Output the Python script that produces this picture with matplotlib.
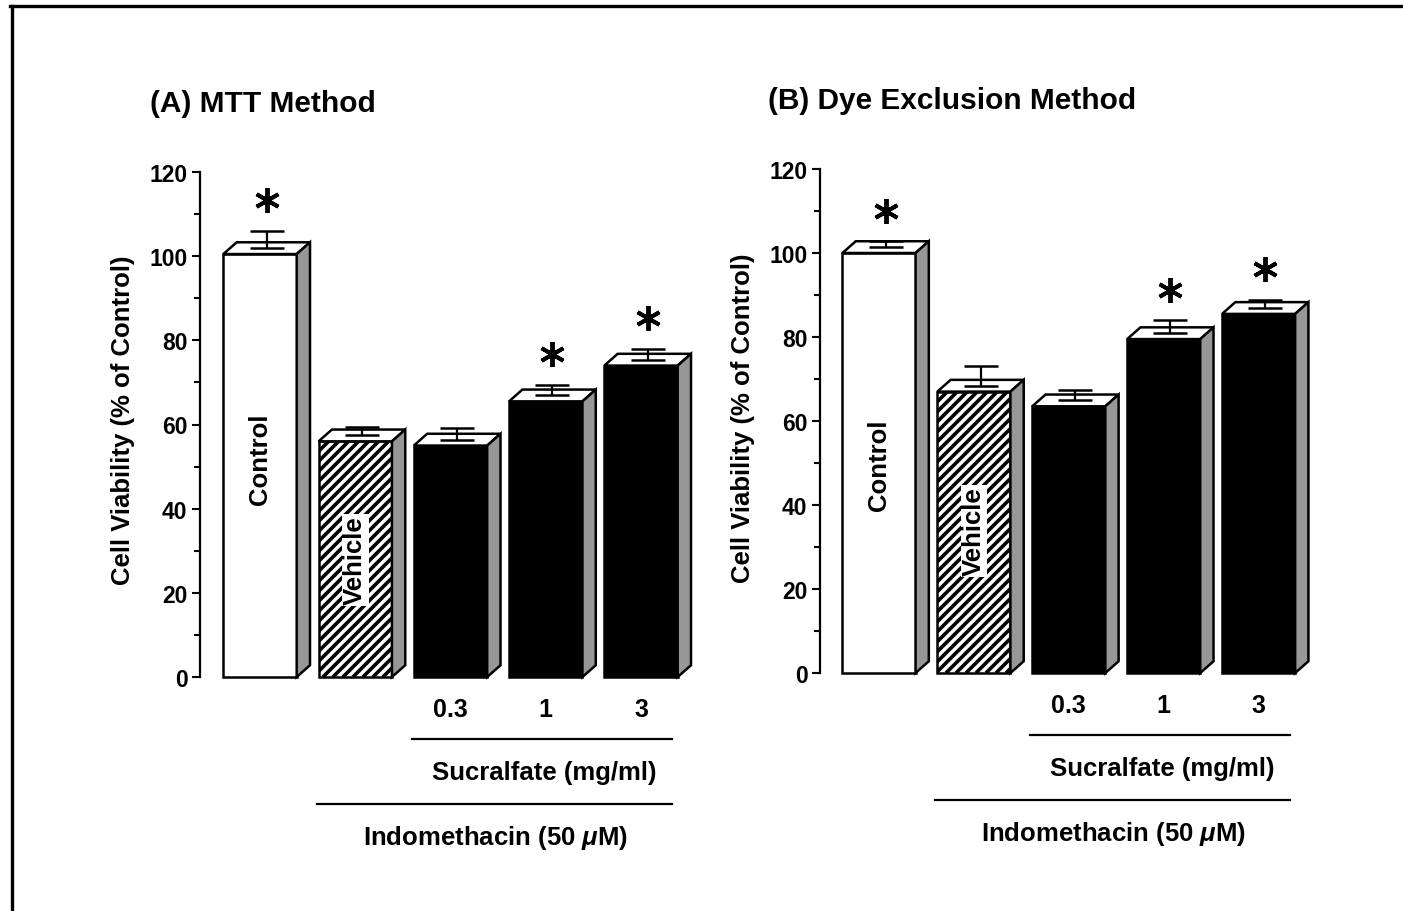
import matplotlib
matplotlib.use('Agg')
import matplotlib.pyplot as plt
from matplotlib.patches import Polygon, Rectangle
from matplotlib.lines import Line2D
import numpy as np

plt.rcParams['font.family'] = ['Liberation Sans', 'DejaVu Sans']
plt.rcParams['font.weight'] = 'bold'
plt.rcParams['mathtext.fontset'] = 'custom'
plt.rcParams['mathtext.it'] = 'Liberation Sans:italic:bold'
plt.rcParams['mathtext.rm'] = 'Liberation Sans:bold'

# ---------------- data ----------------
groups = ['Control', 'Vehicle', '0.3', '1', '3']
dose_labels = ['0.3', '1', '3']
mtt_values = [100.5, 56, 55, 65.5, 74]
mtt_errors = [5.5, 3.5, 4.2, 4.0, 4.0]
mtt_signif = [True, False, False, True, True]
dye_values = [100, 67, 63.5, 79.5, 85.5]
dye_errors = [2.8, 6.0, 4.0, 4.5, 3.3]
dye_signif = [True, False, False, True, True]
panel_titles = ['(A) MTT Method', '(B) Dye Exclusion Method']
y_ticks = [0, 20, 40, 60, 80, 100, 120]
ylabel = 'Cell Viability (% of Control)'
sucralfate_label = 'Sucralfate (mg/ml)'
indo_label = 'Indomethacin (50 $\\mu$M)'

W, H = 1403, 912
fig = plt.figure(figsize=(W / 100, H / 100), dpi=100)

# frame lines
fig.add_artist(Line2D([10 / W, 1.0], [1 - 7 / H, 1 - 7 / H], color='black', lw=2.4,
                      transform=fig.transFigure))
fig.add_artist(Line2D([11.5 / W, 11.5 / W], [0, 1 - 7 / H], color='black', lw=2.4,
                      transform=fig.transFigure))

BW = 0.77      # bar front width (data units)
DX = 0.14      # depth in x
DY = 2.8       # depth in y
SIDE = '#979797'


def panel(left_px, bottom_px, top_px, xmin, spacing, values, errors, signif,
          title, title_xy, ctrl_y, veh_y, ylabel_xy):
    width_px = 500
    height_px = bottom_px - top_px
    ax = fig.add_axes([left_px / W, 1 - bottom_px / H, width_px / W, height_px / H])
    xmax = xmin + width_px / spacing
    ax.set_xlim(xmin, xmax)
    ax.set_ylim(0, 120)
    sx = spacing
    sy = height_px / 120.0
    for s in ['top', 'right', 'bottom']:
        ax.spines[s].set_visible(False)
    ax.spines['left'].set_linewidth(1.6)
    ax.set_xticks([])
    ax.set_yticks(y_ticks)
    ax.set_yticks(np.arange(10, 120, 20), minor=True)
    ax.tick_params(axis='y', which='major', length=6, width=1.5, pad=3, labelsize=16.5)
    ax.tick_params(axis='y', which='minor', length=4, width=1.5)

    x = np.arange(len(groups))
    for i, (v, e, sig) in enumerate(zip(values, errors, signif)):
        c = x[i]
        x0, x1 = c - BW / 2, c + BW / 2
        fc = 'white' if i < 2 else 'black'
        front = Polygon([(x0, 0), (x1, 0), (x1, v), (x0, v)], closed=True, facecolor=fc,
                        edgecolor='none', zorder=3, clip_on=False)
        ax.add_patch(front)
        if i == 1:
            # diagonal hatch drawn in pixel space (45 deg)
            wpx = BW * sx
            hpx = v * sy
            step = 10.0
            for k in np.arange(-hpx, wpx + step, step):
                ln = Line2D([x0 + k / sx, x0 + (k + hpx) / sx], [0, v],
                            color='black', lw=2.6, zorder=3.5, solid_capstyle='butt')
                ax.add_line(ln)
                ln.set_clip_path(front)
        outline = Polygon([(x0, 0), (x1, 0), (x1, v), (x0, v)], closed=True,
                          facecolor='none', edgecolor='black', lw=1.8, zorder=3.6,
                          clip_on=False, joinstyle='miter')
        ax.add_patch(outline)
        top = Polygon([(x0, v), (x1, v), (x1 + DX, v + DY), (x0 + DX, v + DY)], closed=True,
                      facecolor='white', edgecolor='black', lw=1.8, zorder=3.7, clip_on=False,
                      joinstyle='miter')
        side = Polygon([(x1, 0), (x1 + DX, DY), (x1 + DX, v + DY), (x1, v)], closed=True,
                       facecolor=SIDE, edgecolor='black', lw=1.8, zorder=3.7, clip_on=False,
                       joinstyle='miter')
        ax.add_patch(top)
        ax.add_patch(side)
        ex = c + DX / 2
        base = v + DY / 2
        up = max(v + e - base, 0.3)
        ax.errorbar([ex], [base], yerr=[[0], [up]], fmt='none', ecolor='black',
                    elinewidth=1.6, capsize=12.5, capthick=1.8, zorder=4, clip_on=False)
        if sig:
            ax.plot([ex], [v + e + 7.3], marker=(6, 2, 0), markersize=18, mew=2.8,
                    color='black', zorder=5, clip_on=False)

    ax.text(0, ctrl_y, 'Control', rotation=90, ha='center', va='center', fontsize=18.5,
            zorder=6)
    ax.text(1, veh_y, 'Vehicle', rotation=90, ha='center', va='center', fontsize=18.5,
            zorder=6, bbox=dict(facecolor='white', edgecolor='none', pad=1.0))

    for j, lab in enumerate(dose_labels):
        ax.text(2 + j, -7.7, lab, ha='center', va='center', fontsize=18, clip_on=False)
    ax.plot([2 - BW / 2 - 0.02, 4.33], [-14.8, -14.8], color='black', lw=1.6, clip_on=False)
    ax.text(2.98, -22.6, sucralfate_label, ha='center', va='center', fontsize=18.5,
            clip_on=False)
    ax.plot([1 - BW / 2 - 0.02, 4.33], [-30.2, -30.2], color='black', lw=1.6, clip_on=False)
    ax.text(2.47, -38.0, indo_label, ha='center', va='center', fontsize=18.5, clip_on=False)

    ax.text((ylabel_xy[0] - left_px) / width_px, ylabel_xy[1], ylabel, rotation=90,
            ha='center', va='center', fontsize=18.5, transform=ax.transAxes)
    fig.text(title_xy[0] / W, 1 - title_xy[1] / H, title, ha='left', va='center',
             fontsize=21.5)
    return ax


panel(200, 678, 173, -0.63, 95.25, mtt_values, mtt_errors, mtt_signif,
      panel_titles[0], (150, 104), 52.0, 27.8, (123, 0.51))
panel(820, 674, 170, -0.6217, 94.9, dye_values, dye_errors, dye_signif,
      panel_titles[1], (768, 101), 49.8, 33.8, (743, 0.508))

fig.savefig('out.png', dpi=100, facecolor='white')
